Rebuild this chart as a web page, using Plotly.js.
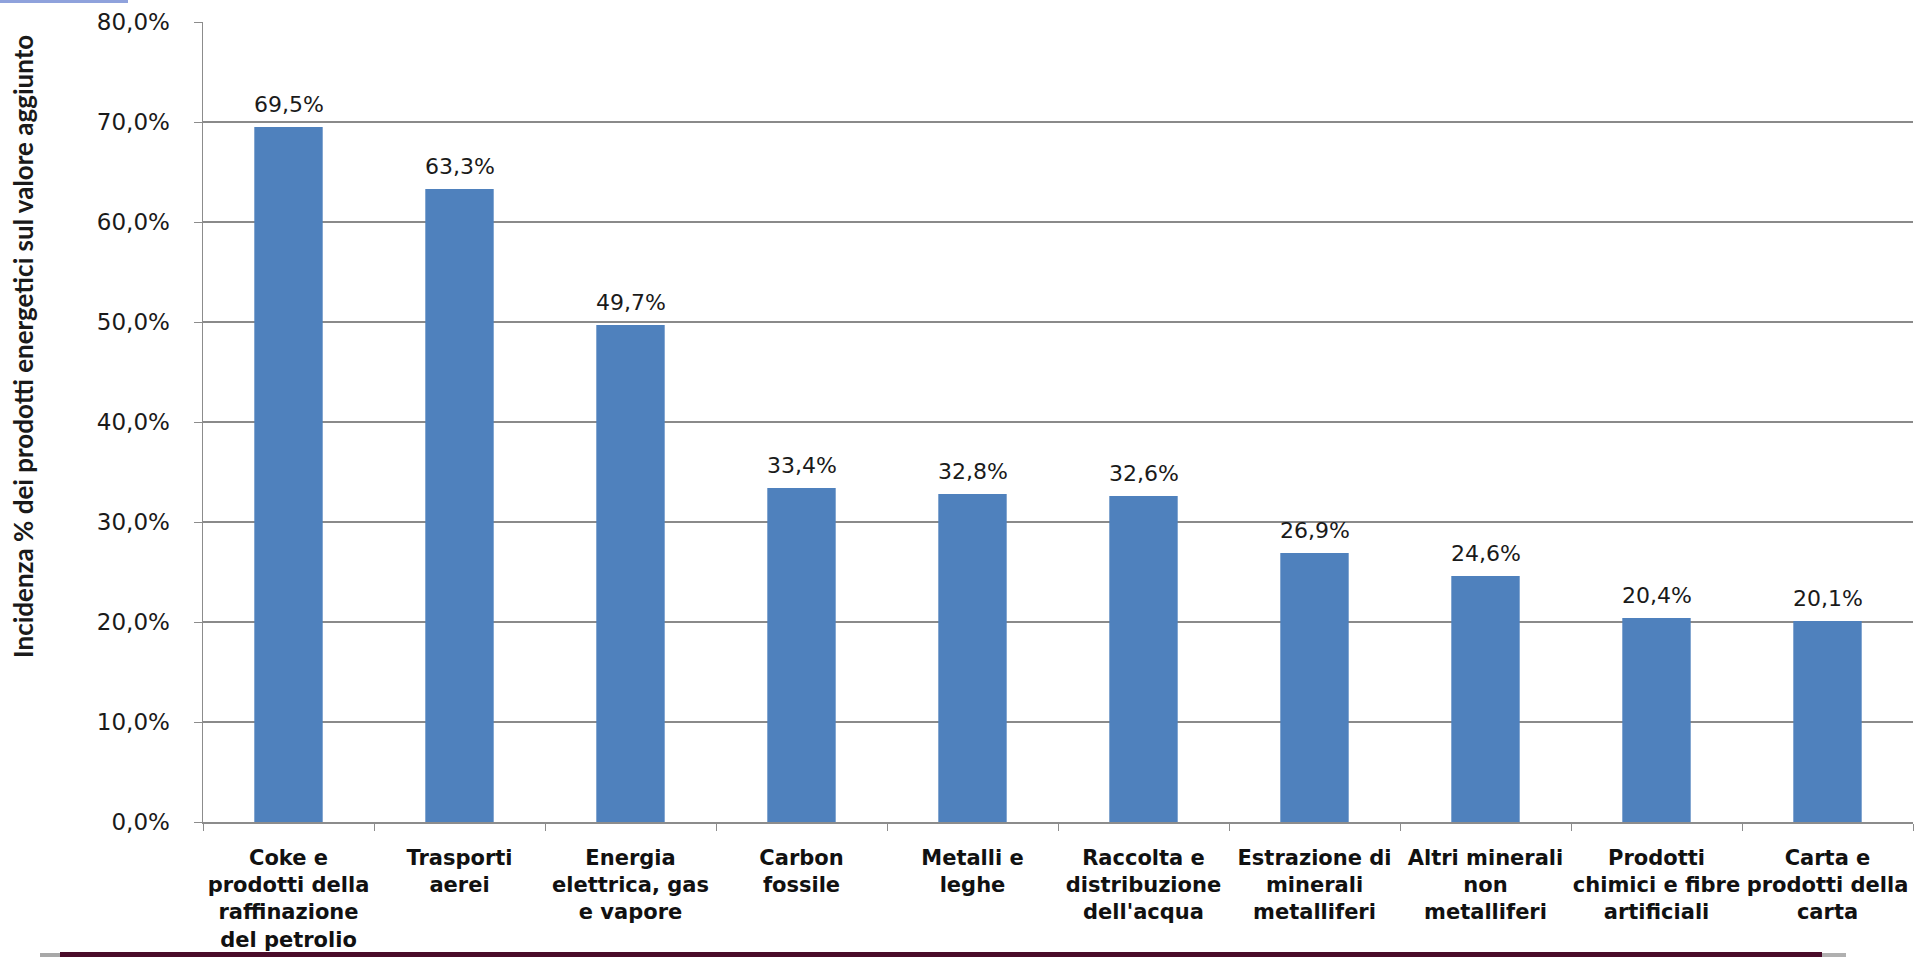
<!DOCTYPE html>
<html>
<head>
<meta charset="utf-8">
<script src="https://cdn.plot.ly/plotly-3.0.1.min.js"></script>
<style>
  html, body { margin: 0; padding: 0; background: #ffffff; }
  #chart { width: 1915px; height: 957px; }
</style>
</head>
<body>
<div id="chart"></div>
<script>
// Settori economici: incidenza dei prodotti energetici sul valore aggiunto
const categories = [
  "Coke e<br>prodotti della<br>raffinazione<br>del petrolio",
  "Trasporti<br>aerei",
  "Energia<br>elettrica, gas<br>e vapore",
  "Carbon<br>fossile",
  "Metalli e<br>leghe",
  "Raccolta e<br>distribuzione<br>dell'acqua",
  "Estrazione di<br>minerali<br>metalliferi",
  "Altri minerali<br>non<br>metalliferi",
  "Prodotti<br>chimici e fibre<br>artificiali",
  "Carta e<br>prodotti della<br>carta"
];
const values = [69.5, 63.3, 49.7, 33.4, 32.8, 32.6, 26.9, 24.6, 20.4, 20.1];
const yTickValues = [0, 10, 20, 30, 40, 50, 60, 70, 80];

const W = 1915, H = 957;
const M = { l: 203, r: 2, t: 22, b: 135 };
const plotW = W - M.l - M.r, plotH = H - M.t - M.b;
// pixel -> paper helpers for the decorative frame pieces
const px = x => (x - M.l) / plotW;
const py = y => (H - M.b - y) / plotH;

// Italian number format: one decimal, comma separator, percent sign
const fmt = v => v.toFixed(1).replace('.', ',') + '%';
const yTickLabels = yTickValues.map(fmt);

const trace = {
  type: 'bar',
  x: categories,
  y: values,
  marker: { color: '#4f81bd', line: { width: 0 } },
  width: 0.4,
  hoverinfo: 'skip'
};

const valueLabels = categories.map((c, i) => ({
  x: c, y: values[i], xref: 'x', yref: 'y',
  text: fmt(values[i]),
  showarrow: false, yanchor: 'bottom', yshift: 8,
  font: { family: 'DejaVu Sans', size: 22, color: '#1a1a1a' }
}));

const axisTitle = {
  xref: 'paper', yref: 'paper',
  x: px(23), y: py(347),
  xanchor: 'center', yanchor: 'middle',
  textangle: -90, showarrow: false,
  text: 'Incidenza % dei prodotti energetici sul valore aggiunto',
  font: { family: 'Lato', size: 26, color: '#1a1a1a', weight: 'bold' }
};

const layout = {
  width: W, height: H,
  margin: M,
  paper_bgcolor: '#ffffff',
  plot_bgcolor: '#ffffff',
  showlegend: false,
  xaxis: {
    type: 'category',
    showline: true, linecolor: '#8c8c8c', linewidth: 1.5,
    ticks: 'outside', tickson: 'boundaries', ticklen: 7, tickcolor: '#8c8c8c',
    showgrid: false,
    tickangle: 0,
    ticklabelstandoff: 16,
    tickfont: { family: 'DejaVu Sans', size: 21, color: '#111111', weight: 'bold' }
  },
  yaxis: {
    range: [0, 80],
    tickmode: 'array',
    tickvals: yTickValues,
    ticktext: yTickLabels,
    showline: true, linecolor: '#8c8c8c', linewidth: 1.5,
    ticks: 'outside', ticklen: 8, tickcolor: '#8c8c8c',
    showgrid: true, gridcolor: '#8a8a8a', gridwidth: 1.4,
    zeroline: false,
    ticklabelstandoff: 19,
    tickfont: { family: 'DejaVu Sans', size: 23, color: '#1a1a1a' }
  },
  annotations: valueLabels.concat([axisTitle]),
  shapes: [
    // blue strip in the upper-left corner
    { type: 'rect', xref: 'paper', yref: 'paper', layer: 'above',
      x0: px(0), x1: px(128), y0: py(3), y1: py(0),
      fillcolor: '#8fa2dc', line: { width: 0 } },
    // dark frame line along the bottom
    { type: 'rect', xref: 'paper', yref: 'paper', layer: 'above',
      x0: px(40), x1: px(62), y0: py(957), y1: py(953),
      fillcolor: '#a8a8a8', line: { width: 0 } },
    { type: 'rect', xref: 'paper', yref: 'paper', layer: 'above',
      x0: px(60), x1: px(1822), y0: py(957), y1: py(952),
      fillcolor: '#4a0c2a', line: { width: 0 } },
    { type: 'rect', xref: 'paper', yref: 'paper', layer: 'above',
      x0: px(1822), x1: px(1846), y0: py(957), y1: py(953),
      fillcolor: '#b0b0b0', line: { width: 0 } }
  ]
};

Plotly.newPlot('chart', [trace], layout, { displayModeBar: false, staticPlot: true });
</script>
</body>
</html>
